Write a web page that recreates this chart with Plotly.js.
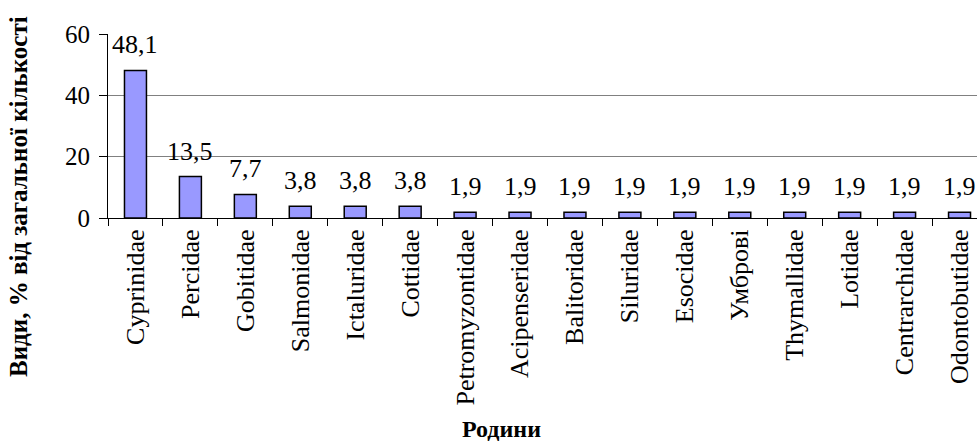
<!DOCTYPE html>
<html>
<head>
<meta charset="utf-8">
<script src="https://cdn.plot.ly/plotly-3.0.1.min.js"></script>
<style>
html,body{margin:0;padding:0;overflow:hidden;background:#fff;}
#chart{width:990px;height:443px;}
</style>
</head>
<body>
<div id="chart"></div>
<script>
var families = ["Cyprinidae","Percidae","Gobitidae","Salmonidae","Ictaluridae","Cottidae","Petromyzontidae","Acipenseridae","Balitoridae","Siluridae","Esocidae","Умброві","Thymallidae","Lotidae","Centrarchidae","Odontobutidae"];
var shares = [48.1,13.5,7.7,3.8,3.8,3.8,1.9,1.9,1.9,1.9,1.9,1.9,1.9,1.9,1.9,1.9];
var yTicks = [0,20,40,60];
var yTitle = "Види, % від загальної кількості";
var xTitle = "Родини";

var fontFam = "Liberation Serif";

var labelAnnotations = families.map(function(f,i){
  return {
    x: f, y: shares[i], xref: 'x', yref: 'y',
    text: shares[i].toFixed(1).replace('.', ','),
    showarrow: false, yanchor: 'bottom', xanchor: 'center', yshift: 9,
    font: {family: fontFam, size: 26, color: '#000'}
  };
});

var W = 990, mL = 108, mR = 3, mT = 34, mB = 225, H = 443;
var pw = W - mL - mR, ph = H - mT - mB;

labelAnnotations.push({
  xref: 'paper', yref: 'paper', x: (18 - mL)/pw, y: (mT + ph - 197)/ph,
  text: '<b>' + yTitle + '</b>', textangle: -90, showarrow: false,
  xanchor: 'center', yanchor: 'middle',
  font: {family: fontFam, size: 25, color: '#000'}
});
labelAnnotations.push({
  xref: 'paper', yref: 'paper', x: (501 - mL)/pw, y: (mT + ph - 429)/ph,
  text: '<b>' + xTitle + '</b>', showarrow: false,
  xanchor: 'center', yanchor: 'middle',
  font: {family: fontFam, size: 24, color: '#000'}
});

var trace = {
  type: 'bar', x: families, y: shares,
  marker: {color: '#9999FF', line: {color: '#000', width: 1.5}},
  hoverinfo: 'x+y'
};

var layout = {
  width: W, height: H,
  margin: {l: mL, r: mR, t: mT, b: mB, pad: 0},
  paper_bgcolor: '#fff', plot_bgcolor: '#fff',
  showlegend: false,
  bargap: 0.6,
  font: {family: fontFam, color: '#000'},
  xaxis: {
    type: 'category', tickson: 'boundaries', ticks: 'outside', ticklen: 7,
    tickcolor: '#000', tickwidth: 1, showline: true, linecolor: '#000', linewidth: 1,
    tickangle: -90, tickfont: {family: fontFam, size: 26, color: '#000'},
    showgrid: false, zeroline: false, automargin: false
  },
  yaxis: {
    range: [0, 60], tickvals: yTicks, ticktext: yTicks.map(String),
    ticks: 'outside', ticklen: 8, tickcolor: '#000', tickwidth: 1,
    ticklabelstandoff: 4,
    showline: true, linecolor: '#000', linewidth: 1,
    showgrid: true, gridcolor: '#808080', gridwidth: 1, zeroline: false,
    tickfont: {family: fontFam, size: 25, color: '#000'}, automargin: false
  },
  annotations: labelAnnotations
};

Plotly.newPlot('chart', [trace], layout, {displayModeBar: false, staticPlot: true});
</script>
</body>
</html>
